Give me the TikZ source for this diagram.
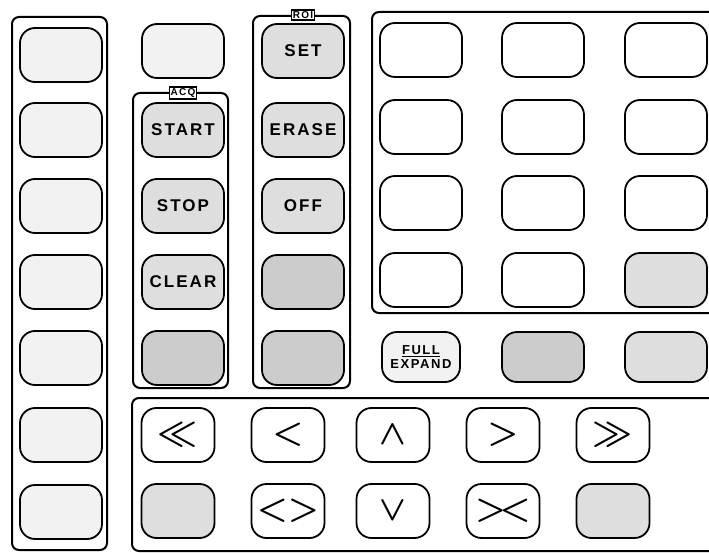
\documentclass[tikz,border=0pt]{standalone}
\usepackage{amsmath}
\usepackage{amssymb}
\usepackage{graphicx}
\usepackage{fontspec}
\setmainfont{Liberation Sans}
\newfontfamily\keyfont[LetterSpace=12]{Liberation Sans Bold}
\newcommand{\navsym}[1]{\scalebox{1.4}{$#1$}}

\tikzset{
 btn/.style={draw, line width=1.8pt, rounded corners=15pt, minimum width=82pt, minimum height=54pt, inner sep=0pt, font=\keyfont\fontsize{17}{17}\selectfont},
 navbtn/.style={btn, minimum width=73pt, font=\Huge\boldmath},
 dotsfew/.style={fill=black!5},
 dotsmid/.style={fill=black!13},
 dotsmany/.style={fill=black!20},
 panel/.style={line width=2pt, rounded corners=7pt},
 tag/.style={draw, line width=1.2pt, fill=white, inner sep=1.5pt, font=\keyfont\fontsize{10}{10}\selectfont}
}

\begin{document}
\begin{tikzpicture}[x=1pt,y=-1pt]
 \useasboundingbox (0,0) rectangle (709,553);
 \clip (0,0) rectangle (709,553);

 % group frames
 \draw[panel] (12,17) rectangle (107,550); %left column
 \draw[panel] (133,93) rectangle (228,388); %ACQ
 \draw[panel] (253,16) rectangle (350,388); %ROI
 \draw[panel] (372,12) rectangle (716,313); %key grid
 \draw[panel] (132,398) rectangle (716,551); %navigation
 \node[tag] (acqtag) at (183,93) {ACQ};
 \node[tag] (roitag) at (303,15) {ROI};

 % left column
 \node[btn,dotsfew] (l1) at (61,55) {};
 \node[btn,dotsfew] (l2) at (61,130) {};
 \node[btn,dotsfew] (l3) at (61,206) {};
 \node[btn,dotsfew] (l4) at (61,282) {};
 \node[btn,dotsfew] (l5) at (61,358) {};
 \node[btn,dotsfew] (l6) at (61,435) {};
 \node[btn,dotsfew] (l7) at (61,512) {};

 % acquisition
 \node[btn,dotsfew] (acqspare) at (183,51) {};
 \node[btn,dotsmid] (start) at (183,130) {START};
 \node[btn,dotsmid] (stop) at (183,206) {STOP};
 \node[btn,dotsmid] (clear) at (183,282) {CLEAR};
 \node[btn,dotsmany] (acqblank) at (183,358) {};

 % region of interest
 \node[btn,dotsmid] (set) at (303,51) {SET};
 \node[btn,dotsmid] (erase) at (303,130) {ERASE};
 \node[btn,dotsmid] (off) at (303,206) {OFF};
 \node[btn,dotsmany] (roia) at (303,282) {};
 \node[btn,dotsmany] (roib) at (303,358) {};

 % key grid
 \node[btn] (g11) at (421,50) {};
 \node[btn] (g12) at (543,50) {};
 \node[btn] (g13) at (666,50) {};
 \node[btn] (g21) at (421,127) {};
 \node[btn] (g22) at (543,127) {};
 \node[btn] (g23) at (666,127) {};
 \node[btn] (g31) at (421,203) {};
 \node[btn] (g32) at (543,203) {};
 \node[btn] (g33) at (666,203) {};
 \node[btn] (g41) at (421,280) {};
 \node[btn] (g42) at (543,280) {};
 \node[btn,dotsmid] (g43) at (666,280) {};

 % display keys
 \node[btn,dotsfew,minimum width=78pt,minimum height=50pt,align=center,
  font=\keyfont\fontsize{13}{14}\selectfont] (full) at (421,357) {\underline{FULL}\\EXPAND};
 \node[btn,dotsmany,minimum height=50pt] (fxa) at (543,357) {};
 \node[btn,dotsmid,minimum height=50pt] (fxb) at (666,357) {};

 % navigation
 \node[navbtn] (fastleft) at (178,435) {\navsym{\ll}};
 \node[navbtn] (stepleft) at (288,435) {\navsym{<}};
 \node[navbtn] (up) at (393,435) {\navsym{\wedge}};
 \node[navbtn] (stepright) at (503,435) {\navsym{>}};
 \node[navbtn] (fastright) at (613,435) {\navsym{\gg}};
 \node[navbtn,dotsmid] (navspa) at (178,511) {};
 \node[navbtn] (widen) at (288,511) {\navsym{<>}};
 \node[navbtn] (down) at (393,511) {\navsym{\vee}};
 \node[navbtn] (narrow) at (503,511) {\navsym{>\!<}};
 \node[navbtn,dotsmid] (navspb) at (613,511) {};
\end{tikzpicture}
\end{document}
